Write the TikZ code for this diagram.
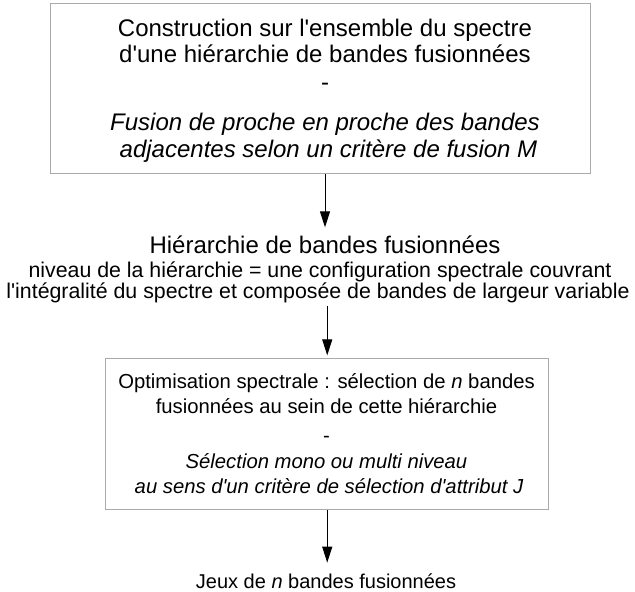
\documentclass[tikz,border=0pt]{standalone}
\usepackage{fontspec}
\setmainfont{Liberation Sans}
\usetikzlibrary{arrows.meta}
\definecolor{boxgray}{RGB}{170,170,170}
\newcommand{\apos}{\textquotesingle}
\begin{document}
\begin{tikzpicture}[x=0.75pt,y=-0.75pt,
  boxnode/.style={draw=boxgray, line width=1.1pt, anchor=north west, inner sep=0pt},
  arr/.style={-{Triangle[length=12pt,width=7.5pt]}, line width=0.75pt, black},
  txt/.style={anchor=base, inner sep=0pt, outer sep=0pt},
  fa/.style={txt, font=\fontsize{18}{21}\selectfont},
  fb/.style={txt, font=\fontsize{16}{19}\selectfont},
  fc/.style={txt, font=\fontsize{15.2}{18}\selectfont},
  fd/.style={txt, font=\fontsize{15}{18}\selectfont}]
\useasboundingbox (0,0) rectangle (635,592);

% box 1
\node[boxnode, minimum width=405pt, minimum height=127.5pt] (b1) at (50,3) {};
\node[fa] (b1l1) at (325,37) {Construction sur l\apos ensemble du spectre};
\node[fa] (b1l2) at (325,63) {d\apos une hiérarchie de bandes fusionnées};
\node[fa] (b1l3) at (325,90) {-};
\node[fa] (b1l4) at (325,130) {\itshape Fusion de proche en proche des bandes};
\node[fa] (b1l5) at (328.5,157) {\itshape adjacentes selon un critère de fusion M};

% hierarchy text
\node[fa] (h1) at (325,253) {Hiérarchie de bandes fusionnées};
\node[fb] (h2) at (320,277) {niveau de la hiérarchie = une configuration spectrale couvrant};
\node[fb] (h3) at (318,298) {l\apos intégralité du spectre et composée de bandes de largeur variable};

% box 2
\node[boxnode, minimum width=332.25pt, minimum height=113.25pt] (b2) at (105,358) {};
\node[fc] (b2l1) at (326.5,388) {Optimisation spectrale : sélection de \textit{n} bandes};
\node[fc] (b2l2) at (326.5,413) {fusionnées au sein de cette hiérarchie};
\node[fc] (b2l3) at (326.5,442) {-};
\node[fc] (b2l4) at (326.5,468) {\itshape Sélection mono ou multi niveau};
\node[fc] (b2l5) at (329,493) {\itshape au sens d\apos un critère de sélection d\apos attribut J};

% final text
\node[fd] (j) at (326,588) {Jeux de \textit{n} bandes fusionnées};

% arrows
\draw[arr] (b1.south -| h1.north) -- ([yshift=6pt]h1.north);
\draw[arr] ([yshift=-3pt]h3.south -| b2.north) -- ([yshift=2pt]b2.north);
\draw[arr] (b2.south) -- ([yshift=8pt]b2.south |- j.north);
\end{tikzpicture}
\end{document}
